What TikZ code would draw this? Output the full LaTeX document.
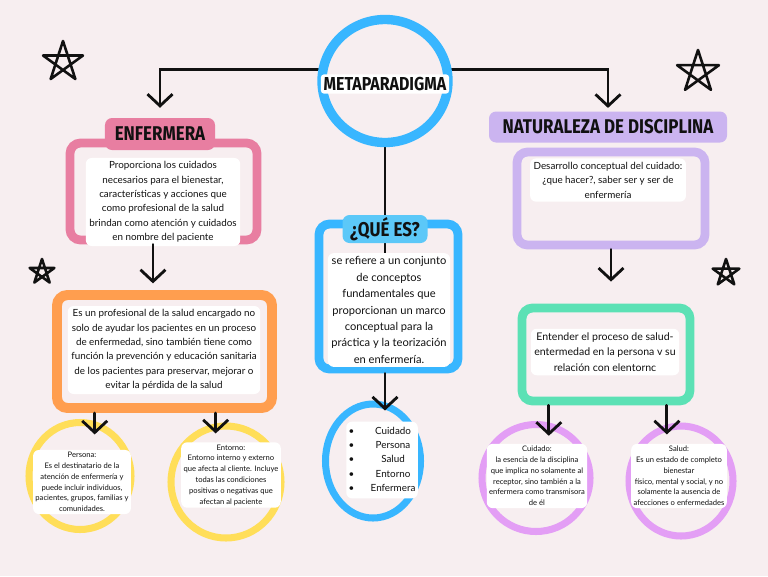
\documentclass[tikz,border=0pt]{standalone}
\usepackage{fontspec}
\setmainfont{Lato}
\newfontfamily\headfont[FakeStretch=0.85]{Fira Sans}
\usetikzlibrary{shapes.geometric,arrows.meta,fit,backgrounds}
\definecolor{bgc}{RGB}{247,238,240}
\definecolor{inkc}{RGB}{17,17,17}
\definecolor{pinkc}{RGB}{232,126,161}
\definecolor{orangec}{RGB}{255,158,79}
\definecolor{yellowc}{RGB}{255,222,89}
\definecolor{bluec}{RGB}{56,182,255}
\definecolor{skyc}{RGB}{92,200,248}
\definecolor{lilac}{RGB}{203,180,240}
\definecolor{greenc}{RGB}{92,225,181}
\definecolor{violetc}{RGB}{227,158,245}

\begin{document}
\begin{tikzpicture}[x=0.03cm, y=-0.03cm,
	every node/.style={font=\fontsize{8.4}{12.3}\selectfont, text=inkc},
	frame/.style={draw=#1, line width=7.5pt, rounded corners=9pt, inner sep=0pt},
	ring/.style={ellipse, draw=#1, line width=6pt, inner sep=0pt},
	hdr/.style={fill=#1, rounded corners=6pt, inner sep=0pt, font=\headfont\bfseries\fontsize{17}{17}\selectfont},
	txt/.style={fill=white, rounded corners=5pt, align=center, inner sep=3pt},
	small/.style={txt, font=\fontsize{6.5}{9.2}\selectfont, inner sep=2pt},
	arr/.style={draw=inkc, line width=2.4pt, line cap=round, -{Straight Barb[length=3.5mm,width=7.5mm]}},
	starline/.style={draw=inkc, line width=2.2pt, line join=round, line cap=round}]
	\begin{scope}[on background layer]
	\fill[bgc] (0,0) rectangle (768,576);
	\end{scope}
	% title
	\node[ring=bluec, line width=8pt, minimum width=3.78cm, minimum height=3.69cm] (meta) at (385,81) {};
	\node[fill=white, rounded corners=3pt, inner sep=2.5pt, font=\headfont\bfseries\fontsize{16}{16}\selectfont] (metaTxt) at (385,84) {METAPARADIGMA};
	% boxes
	\node[frame=pinkc, fit={(70,143) (257,240)}] (enfBox) {};
	\node[frame=orangec, line width=8.5pt, fit={(57,295) (272,408)}] (orgBox) {};
	\node[frame=bluec, fit={(319,224) (458,369)}] (queBox) {};
	\node[frame=lilac, fit={(517,152) (705,245)}] (natBox) {};
	\node[frame=greenc, fit={(522,308) (690,401)}] (grnBox) {};
	% headers
	\node[hdr=pinkc, minimum width=3.3cm, minimum height=0.96cm] (enfHead) at (160,134) {ENFERMERA};
	\node[hdr=skyc, minimum width=2.55cm, minimum height=0.84cm] (queHead) at (385,229) {¿QUÉ ES?};
	\node[hdr=lilac, minimum width=7.14cm, minimum height=0.93cm] (natHead) at (608,127) {NATURALEZA DE DISCIPLINA};
	% circles
	\node[ring=yellowc, minimum width=3.06cm, minimum height=3.21cm] (persona) at (80,476) {};
	\node[ring=yellowc, minimum width=3.3cm, minimum height=3.36cm] (entorno) at (226,482) {};
	\node[ring=bluec, minimum width=2.85cm, minimum height=3.42cm] (bcirc) at (373,461) {};
	\node[ring=violetc, minimum width=3.24cm, minimum height=3.21cm] (cuidado) at (536,478) {};
	\node[ring=violetc, minimum width=3.12cm, minimum height=3.3cm] (salud) at (681,481) {};
	% texts
	\node[txt] (enfTxt) at (163,202) {Proporciona los cuidados\\necesarios para el bienestar,\\características y acciones que\\como profesional de la salud\\brindan como atención y cuidados\\en nombre del paciente};
	\node[txt] (orgTxt) at (164,350) {Es un profesional de la salud encargado no\\solo de ayudar los pacientes en un proceso\\de enfermedad, sino también tiene como\\función la prevención y educación sanitaria\\de los pacientes para preservar, mejorar o\\evitar la pérdida de la salud};
	\node[txt, font=\fontsize{9.5}{14}\selectfont] (queTxt) at (389,310) {se refiere a un conjunto\\de conceptos\\fundamentales que\\proporcionan un marco\\conceptual para la\\práctica y la teorización\\en enfermería.};
	\node[txt] (natTxt) at (608,180) {Desarrollo conceptual del cuidado:\\¿que hacer?, saber ser y ser de\\enfermería};
	\node[txt, font=\fontsize{9}{13.5}\selectfont] (grnTxt) at (605,352) {Entender el proceso de salud-\\entermedad en la persona v su\\relación con elentornc};
	\node[small] (perTxt) at (82,482) {Persona:\\Es el destinatario de la\\atención de enfermería y\\puede incluir individuos,\\pacientes, grupos, familias y\\comunidades.};
	\node[small] (entTxt) at (231,475) {Entorno:\\Entorno interno y externo\\que afecta al cliente. Incluye\\todas las condiciones\\positivas o negativas que\\afectan al paciente};
	\node[txt, inner sep=2pt] (lista) at (382,460) {\begin{tabular}{@{}l@{\hspace{14pt}}c@{}}\textbullet & Cuidado\\ \textbullet & Persona\\ \textbullet & Salud\\ \textbullet & Entorno\\ \textbullet & Enfermera\end{tabular}};
	\node[small] (cuiTxt) at (537,476) {Cuidado:\\la esencia de la disciplina\\que implica no solamente al\\receptor, sino también a la\\enfermera como transmisora\\de él};
	\node[small] (salTxt) at (679,476) {Salud:\\Es un estado de completo\\bienestar\\físico, mental y social, y no\\solamente la ausencia de\\afecciones o enfermedades};
	% connectors
	\begin{scope}[on background layer]
	\draw[arr, shorten >=3mm] (meta.170) -| (enfHead.north);
	\draw[arr, shorten >=1mm] (meta.10) -| (natHead.north);
	\draw[inkc, line width=2.4pt] (meta.south) -- (meta.south |- queTxt.north);
	\end{scope}
	\draw[arr, shorten >=2mm] ([xshift=-6pt]enfBox.south -| enfHead.south) -- ([xshift=-6pt]orgBox.north -| enfHead.south);
	\draw[arr, shorten >=-4mm] (persona.75 |- orgBox.south) -- (persona.75);
	\draw[arr, shorten >=-3mm] (entorno.100 |- orgBox.south) -- (entorno.100);
	\draw[arr, shorten >=-3mm] (queBox.south -| queHead.south) -- (bcirc.north -| queHead.south);
	\draw[arr, shorten >=6.6mm] (natBox.south) -- (natBox.south |- grnBox.north);
	\draw[arr, shorten >=-4mm] (cuidado.77 |- grnBox.south) -- (cuidado.77);
	\draw[arr, shorten >=-3mm] (salud.104 |- grnBox.south) -- (salud.104);
	% stars
	\foreach \sx/\sy/\sr in {63/62/21, 42/272/13, 698/72/22, 726/273/14}
		\draw[starline, shift={(\sx,\sy)}] (-90:\sr) -- (54:\sr) -- (198:\sr) -- (-18:\sr) -- (126:\sr) -- cycle;
\end{tikzpicture}
\end{document}
